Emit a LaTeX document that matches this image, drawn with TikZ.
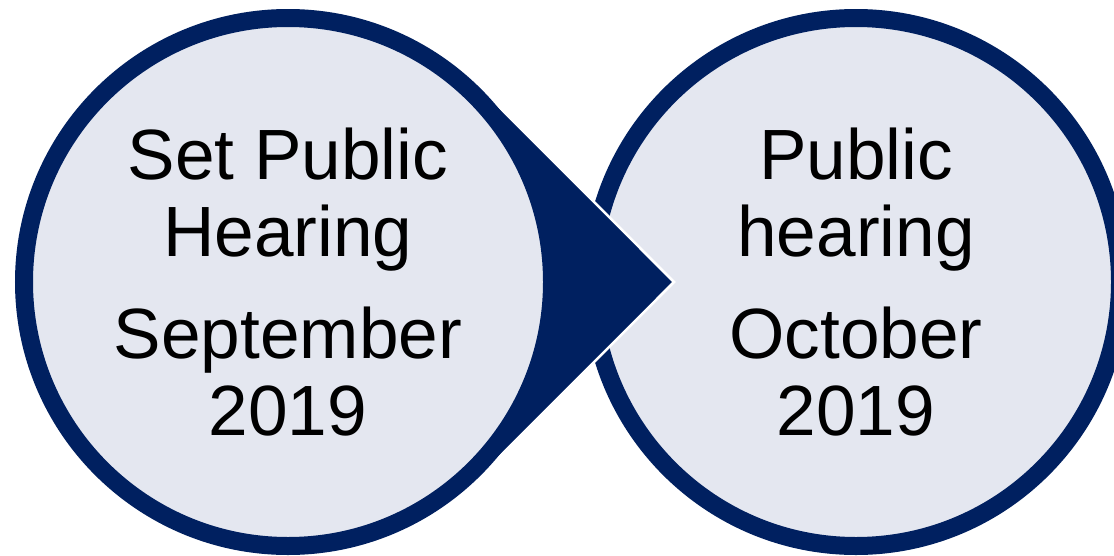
\documentclass[tikz,border=0pt]{standalone}
\usepackage{fontspec}
\setmainfont{Liberation Sans}
\usetikzlibrary{calc}
\definecolor{navy}{RGB}{0,32,96}
\definecolor{paleblue}{RGB}{228,231,240}
\tikzset{
  stage/.style={circle,draw=navy,fill=paleblue,line width=0.36cm,minimum size=10.56cm,
    inner sep=0pt,align=center,font=\fontsize{40.5}{43.5}\selectfont},
}
\begin{document}
\begin{tikzpicture}
          \useasboundingbox (0,0) rectangle (22.28,11.10);
          \coordinate (c) at (5.76,5.46);
          \coordinate (tip) at (13.48,5.46);
          \node[stage] (b) at (17.12,5.46) {Public\\hearing\\[0.52cm]October\\2019};
          \fill[navy,draw=white,line width=0.05cm] (tip) -- ($(c)+(45:5.46)$)
            arc[start angle=45,end angle=315,radius=5.46] -- cycle;
          \node[stage] (a) at (c) {Set Public\\Hearing\\[0.52cm]September\\2019};
        \end{tikzpicture}
\end{document}
